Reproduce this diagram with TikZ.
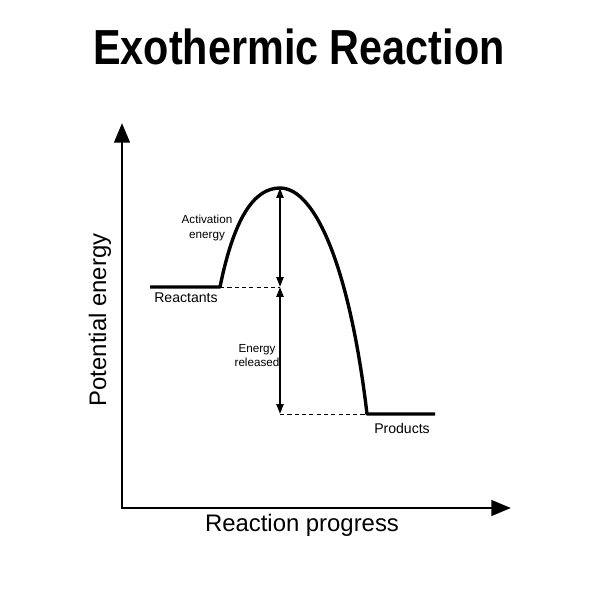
\documentclass[tikz,border=0pt]{standalone}
\usepackage{fontspec}
\setmainfont{Liberation Sans}
\usetikzlibrary{arrows.meta}

\tikzset{
    axisline/.style={line width=2.1pt,{Triangle[length=14pt,width=11pt]}-{Triangle[length=14pt,width=11pt]}},
    levelline/.style={line width=2.4pt},
    gapline/.style={line width=1.4pt,{Triangle[length=7pt,width=5pt]}-{Triangle[length=7pt,width=5pt]}},
    guideline/.style={line width=0.7pt,dash pattern=on 3pt off 2.2pt},
    smalllabel/.style={font=\fontsize{8.3}{10}\selectfont,align=center},
    statelabel/.style={font=\fontsize{10}{12}\selectfont}
}

\begin{document}
\begin{tikzpicture}[x=0.025cm,y=-0.025cm]
            \useasboundingbox (0,0) rectangle (600,600);
            \node[xscale=0.84] (title) at (299,47) {\fontsize{35}{40}\selectfont\bfseries Exothermic Reaction};
            \coordinate (origin) at (122,508);
            \coordinate (ytop) at (122,123);
            \coordinate (xend) at (511,508);
            \draw[axisline] (ytop) -- (origin) -- (xend);
            \node[rotate=90,font=\fontsize{17}{20}\selectfont] (ylabel) at (100,320) {Potential energy};
            \node[font=\fontsize{17}{20}\selectfont] (xlabel) at (302,525) {Reaction progress};
            \coordinate (rstart) at (150,287);
            \coordinate (rend) at (220,287);
            \coordinate (peak) at (280,188);
            \coordinate (pstart) at (367,414);
            \coordinate (pend) at (435,414);
            \coordinate (rlevel) at (280,287);
            \coordinate (plevel) at (280,414);
            \draw[guideline] (rend) -- (rlevel);
            \draw[guideline] (plevel) -- (pstart);
            \draw[levelline,line join=round] (rstart) -- (rend)
                .. controls (234,218) and (254,188) .. (peak)
                .. controls (316,188) and (350,270) .. (pstart) -- (pend);
            \draw[gapline] (peak) -- (rlevel);
            \draw[gapline] (rlevel) -- (plevel);
            \node[smalllabel] (actlabel) at (207,228) {Activation\\energy};
            \node[smalllabel] (rellabel) at (257,356) {Energy\\released};
            \node[statelabel] (reactants) at (186,298) {Reactants};
            \node[statelabel] (products) at (402,428) {Products};
\end{tikzpicture}
\end{document}
